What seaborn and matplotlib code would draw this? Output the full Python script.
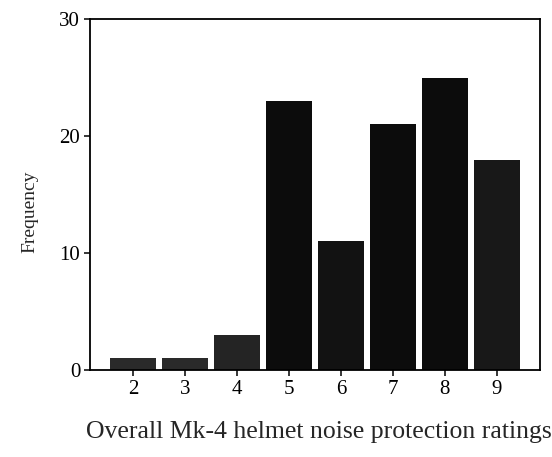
import matplotlib
matplotlib.use("Agg")
import matplotlib.pyplot as plt
import seaborn as sns
import pandas as pd

ratings = ["2", "3", "4", "5", "6", "7", "8", "9"]
frequency = [1, 1, 3, 23, 11, 21, 25, 18]
bar_colors = ["#2a2a2a", "#2a2a2a", "#242424", "#0c0c0c", "#121212", "#0c0c0c", "#0c0c0c", "#181818"]
y_ticks = [0, 10, 20, 30]

sns.set_theme(style="ticks")
plt.rcParams["font.family"] = ["Liberation Serif", "DejaVu Serif"]

df = pd.DataFrame({"rating": ratings, "frequency": frequency})

fig = plt.figure(figsize=(5.52, 4.57), dpi=100)
ax = fig.add_axes([0.163, 0.19, 0.815, 0.768])
sns.barplot(data=df, x="rating", y="frequency", hue="rating", palette=bar_colors,
            legend=False, width=0.88, saturation=1, ax=ax, edgecolor="none")

ax.set_xlim(-0.83, 7.83)
ax.set_ylim(0, 30)
ax.set_yticks(y_ticks)
ax.set_xlabel("")
ax.set_ylabel("")
for s in ax.spines.values():
    s.set_visible(True)
    s.set_linewidth(1.3)
    s.set_color("black")
ax.tick_params(axis="both", direction="out", length=4.5, width=1.1, colors="black",
               labelsize=15, pad=2.5)

fig.text(0.054, 0.536, "Frequency", rotation=90, ha="center", va="center", fontsize=14)
fig.text(0.578, 0.055, "Overall Mk-4 helmet noise protection ratings",
         ha="center", va="center", fontsize=18.5)

fig.savefig("out.png", dpi=100, facecolor="white")
